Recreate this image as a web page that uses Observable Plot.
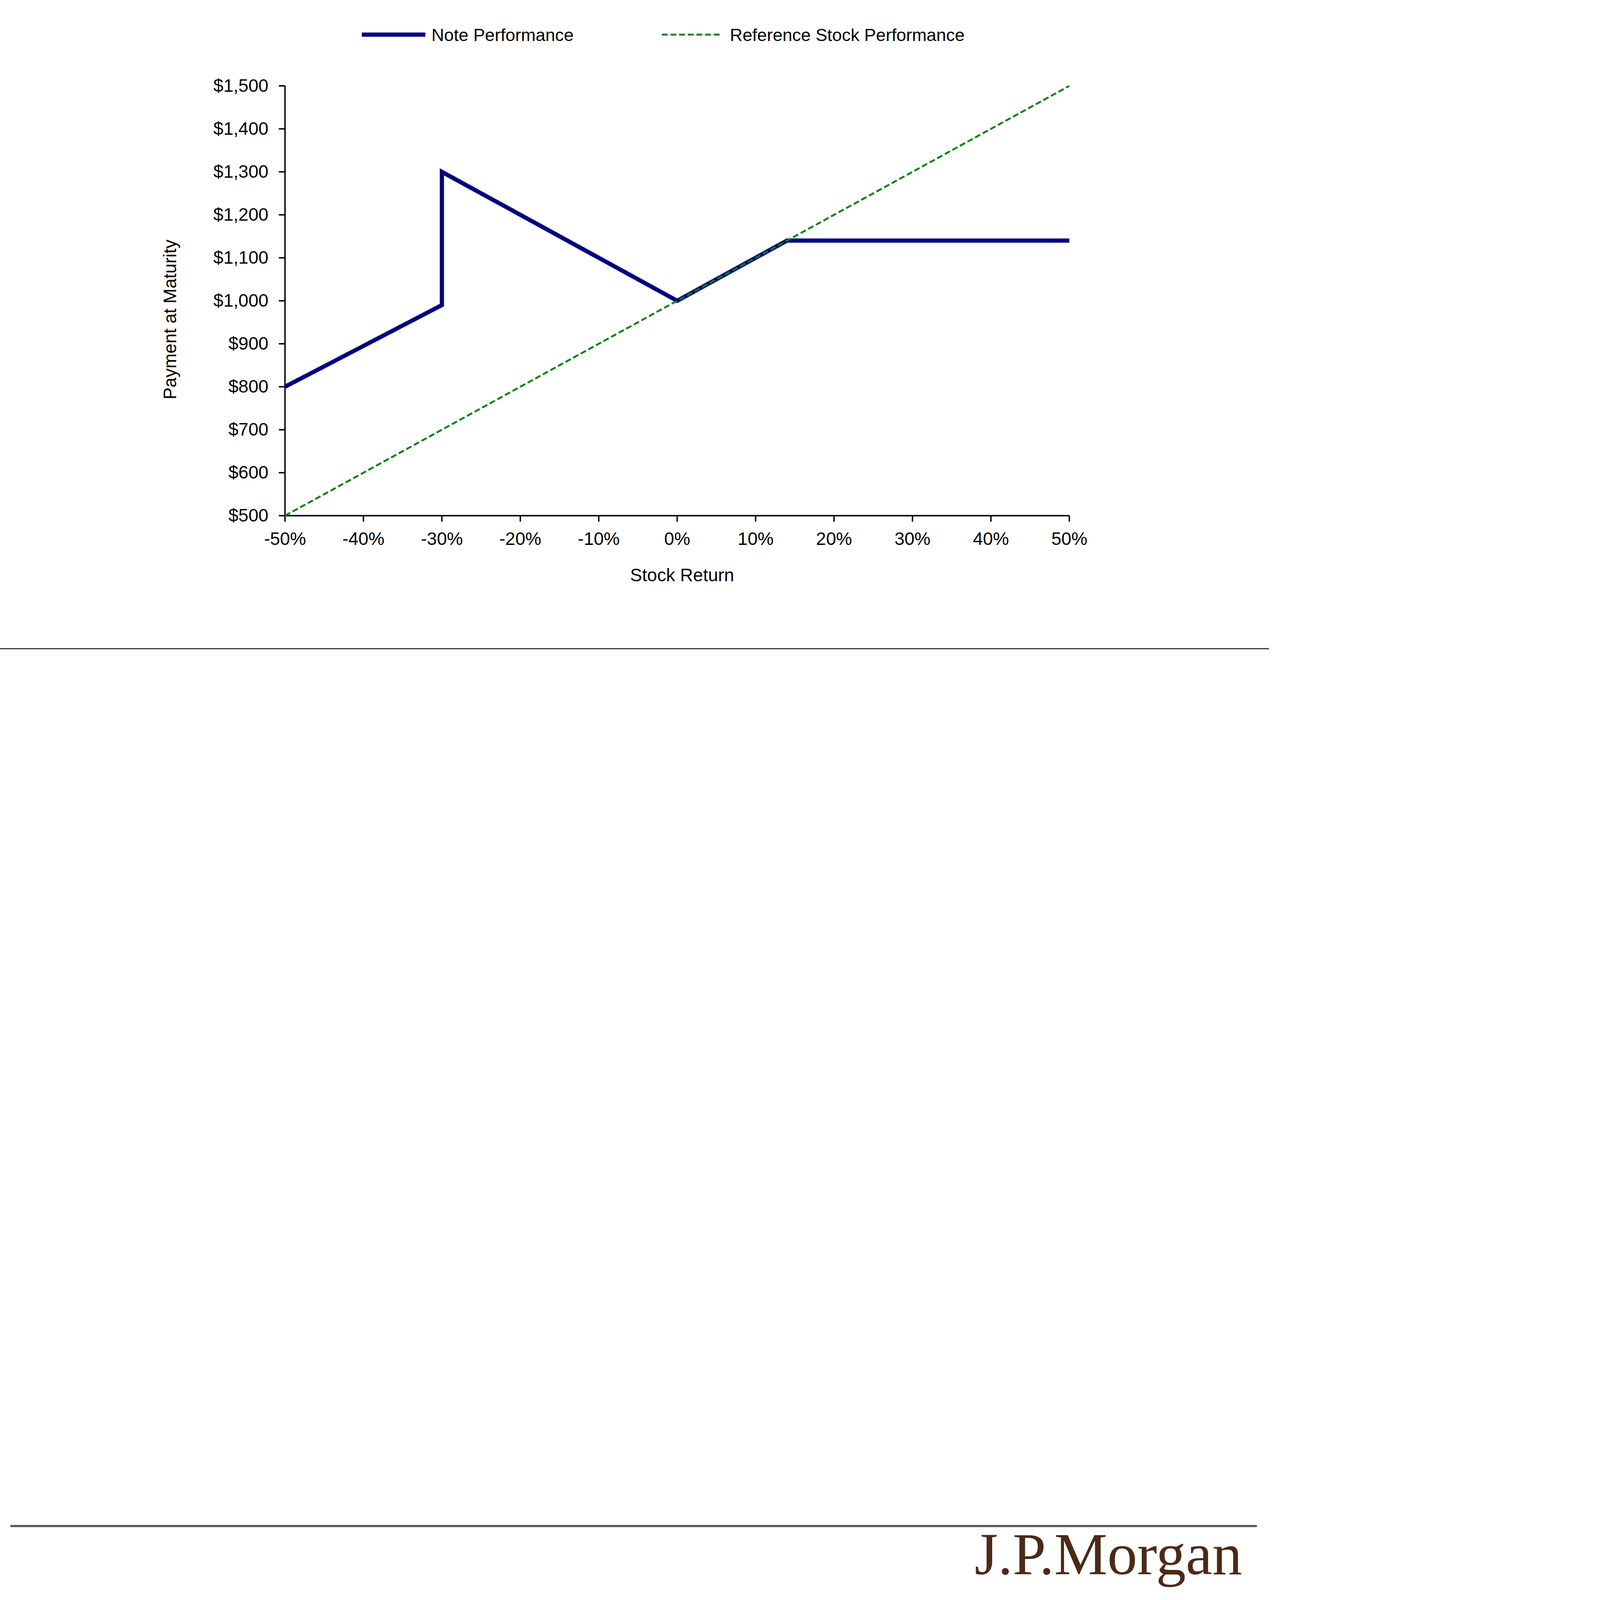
<!DOCTYPE html>
<html>
<head>
<meta charset="utf-8">
<script src="https://cdn.jsdelivr.net/npm/d3@7"></script>
<script src="https://cdn.jsdelivr.net/npm/@observablehq/plot@0.6"></script>
<style>
  html, body { margin: 0; padding: 0; background: #ffffff; overflow: hidden; }
  #page { position: absolute; left: 0; top: 0; width: 5430px; height: 6846px; overflow: hidden; background: #fff;
          transform-origin: 0 0; font-family: "Liberation Sans", Arial, sans-serif; }
  #legend { position: absolute; left: 0; top: 0; }
  #chart { position: absolute; left: 0; top: 250px; }
  #brownRule { position: absolute; left: 0; top: 2773px; width: 5430px; height: 5px; background: #4e3220; }
  #footer { position: absolute; left: 0; top: 6500px; }
</style>
</head>
<body>
<div id="page">
  <div id="legend"></div>
  <div id="chart"></div>
  <div id="brownRule"></div>
  <div id="footer"></div>
</div>
<script>
// ---- data ----
const seriesNames = ["Note Performance", "Reference Stock Performance"];
const noteReturn = [-50, -30, -30, 0, 14, 50];
const notePayment = [800, 990, 1300, 1000, 1140, 1140];
const stockReturn = [-50, 50];
const stockPayment = [500, 1500];
const xTicks = [-50, -40, -30, -20, -10, 0, 10, 20, 30, 40, 50];
const yTicks = [500, 600, 700, 800, 900, 1000, 1100, 1200, 1300, 1400, 1500];
const xLabel = "Stock Return";
const yLabel = "Payment at Maturity";
const brand = "J.P.Morgan";

const noteData = noteReturn.map((r, i) => ({r, p: notePayment[i]}));
const stockData = stockReturn.map((r, i) => ({r, p: stockPayment[i]}));

const NAVY = "#000080";
const GREEN = "#008000";
const FONT = "'Liberation Sans', Arial, sans-serif";
const FS = 77;

// fit the 5430x6846 design into whatever window is available
const page = document.getElementById("page");
function fit() {
  const s = Math.min(window.innerWidth / 5430, window.innerHeight / 6846);
  page.style.transform = `scale(${s})`;
}
fit();
window.addEventListener("resize", fit);

// ---- legend ----
const ns = "http://www.w3.org/2000/svg";
const leg = d3.select("#legend").append("svg")
  .attr("xmlns", ns).attr("width", 5430).attr("height", 250)
  .style("font-family", FONT).style("font-size", "75px");
leg.append("line").attr("x1", 1548).attr("x2", 1820).attr("y1", 148).attr("y2", 148)
  .attr("stroke", NAVY).attr("stroke-width", 18);
leg.append("text").attr("x", 1846).attr("y", 176).attr("fill", "#000").text(seriesNames[0]);
leg.append("line").attr("x1", 2832).attr("x2", 3090).attr("y1", 148).attr("y2", 148)
  .attr("stroke", GREEN).attr("stroke-width", 8).attr("stroke-dasharray", "25,12");
leg.append("text").attr("x", 3123).attr("y", 176).attr("fill", "#000").text(seriesNames[1]);

// ---- chart ----
const chart = Plot.plot({
  width: 5430,
  height: 2350,
  marginTop: 117,
  marginLeft: 1219,
  marginRight: 855,
  marginBottom: 394,
  style: {fontFamily: FONT, fontSize: FS + "px", color: "#000", background: "transparent"},
  x: {domain: [-50, 50], label: null},
  y: {domain: [500, 1500], label: null},
  marks: [
    Plot.axisY({ticks: yTicks, tickSize: 26, tickPadding: 45, strokeWidth: 6, label: null,
      fontSize: FS, tickFormat: d => "$" + d3.format(",")(d)}),
    Plot.axisX({ticks: xTicks, tickSize: 26, tickPadding: 45, strokeWidth: 6, label: null,
      fontSize: FS, tickFormat: d => `${d}%`}),
    Plot.ruleX([-50], {stroke: "#000", strokeWidth: 6}),
    Plot.ruleY([500], {stroke: "#000", strokeWidth: 6}),
    Plot.line(noteData, {x: "r", y: "p", stroke: NAVY, strokeWidth: 18,
      strokeLinejoin: "miter", strokeLinecap: "butt", strokeMiterlimit: 10}),
    Plot.line(stockData, {x: "r", y: "p", stroke: GREEN, strokeWidth: 8,
      strokeDasharray: "25,12", strokeLinecap: "butt"}),
    Plot.text([xLabel], {text: d => d, frameAnchor: "bottom", dx: 21, dy: 256,
      lineAnchor: "middle", fontSize: FS, fill: "#000"}),
    Plot.text([yLabel], {text: d => d, frameAnchor: "left", rotate: -90, dx: -490, dy: 80,
      lineAnchor: "middle", textAnchor: "middle", fontSize: FS, fill: "#000"})
  ]
});
document.getElementById("chart").appendChild(chart);

// ---- footer ----
const foot = d3.select("#footer").append("svg")
  .attr("xmlns", ns).attr("width", 5430).attr("height", 346);
foot.append("rect").attr("x", 44).attr("y", 25).attr("width", 5334).attr("height", 9).attr("fill", "#555555");
foot.append("text").attr("x", 4170).attr("y", 235)
  .style("font-family", "'Liberation Serif', 'DejaVu Serif', serif")
  .style("font-size", "256px").attr("fill", "#4b2a17")
  .attr("textLength", 1145).attr("lengthAdjust", "spacing")
  .text(brand);
</script>
</body>
</html>
